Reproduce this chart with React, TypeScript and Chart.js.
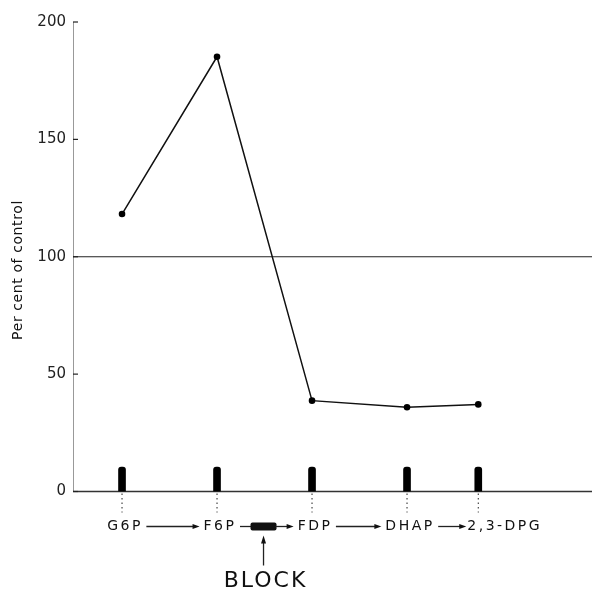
import React, { useEffect, useRef } from "react";
import { Chart, registerables } from "chart.js";

Chart.register(...registerables);

const categories = ["G6P", "F6P", "FDP", "DHAP", "2,3-DPG"];
const categoryPositions = [0, 1, 2, 3, 3.75];
const percentOfControl = [118.2, 185.2, 38.7, 35.9, 37.1];
const markerHeights = [10.4, 10.4, 10.4, 10.4, 10.4];
const controlLevel = 100;
const yTicks = [0, 50, 100, 150, 200];
const xMin = -0.516;
const xMax = 4.905;
const controlLineEnd = 4.95;
const blockLabel = "BLOCK";
const yTitle = "Per cent of control";

const FONT = "'DejaVu Sans', sans-serif";

function arrow(ctx: CanvasRenderingContext2D, x1: number, x2: number, y: number) {
  ctx.beginPath();
  ctx.moveTo(x1, y);
  ctx.lineTo(x2 - 5, y);
  ctx.stroke();
  ctx.beginPath();
  ctx.moveTo(x2, y);
  ctx.lineTo(x2 - 7, y - 2.5);
  ctx.lineTo(x2 - 7, y + 2.5);
  ctx.closePath();
  ctx.fill();
}

const overlay = {
  id: "overlay",
  beforeDatasetsDraw(chart: any) {
    const ctx: CanvasRenderingContext2D = chart.ctx;
    const ys = chart.scales.y;
    const area = chart.chartArea;
    const y0 = ys.getPixelForValue(0);
    ctx.save();
    ctx.strokeStyle = "#333";
    ctx.lineWidth = 1.3;
    ctx.beginPath();
    ctx.moveTo(area.left, y0);
    ctx.lineTo(chart.width, y0);
    ctx.stroke();
    ctx.restore();
  },
  afterDraw(chart: any) {
    const ctx: CanvasRenderingContext2D = chart.ctx;
    const xs = chart.scales.x;
    const ys = chart.scales.y;
    const area = chart.chartArea;
    ctx.save();
    ctx.strokeStyle = "#222";
    ctx.fillStyle = "#111";
    const y0 = ys.getPixelForValue(0);
    // inward ticks
    ctx.lineWidth = 1.2;
    yTicks.forEach((t) => {
      const py = ys.getPixelForValue(t);
      ctx.beginPath();
      ctx.moveTo(area.left, py);
      ctx.lineTo(area.left + 5, py);
      ctx.stroke();
    });
    // dotted drop lines
    ctx.setLineDash([1.5, 3]);
    ctx.lineWidth = 1;
    categoryPositions.forEach((p) => {
      const px = xs.getPixelForValue(p);
      ctx.beginPath();
      ctx.moveTo(px, y0 + 2);
      ctx.lineTo(px, y0 + 21);
      ctx.stroke();
    });
    ctx.setLineDash([]);
    // labels
    const ly = y0 + 35;
    ctx.font = `14px ${FONT}`;
    (ctx as any).letterSpacing = "2.5px";
    ctx.textBaseline = "middle";
    ctx.textAlign = "left";
    const boxes: { l: number; r: number }[] = [];
    categories.forEach((c, i) => {
      const px = xs.getPixelForValue(categoryPositions[i]);
      const w = ctx.measureText(c).width;
      let left = px + 3 - w / 2;
      if (i === categories.length - 1) left = px - 11;
      ctx.fillText(c, left, ly);
      boxes.push({ l: left, r: left + w - 2.5 });
    });
    (ctx as any).letterSpacing = "0px";
    ctx.lineWidth = 1.3;
    for (let i = 0; i < boxes.length - 1; i++) {
      const start = boxes[i].r + 6;
      const end = boxes[i + 1].l - (i === 3 ? 1 : 4);
      if (i === 1) {
        const mid = (xs.getPixelForValue(categoryPositions[1]) + xs.getPixelForValue(categoryPositions[2])) / 2 - 1;
        ctx.beginPath();
        ctx.moveTo(start, ly);
        ctx.lineTo(mid - 12, ly);
        ctx.stroke();
        ctx.beginPath();
        (ctx as any).roundRect(mid - 13, ly - 4, 26, 8, 2);
        ctx.fill();
        arrow(ctx, mid + 12, end, ly);
        // BLOCK arrow up
        ctx.beginPath();
        ctx.moveTo(mid, ly + 39);
        ctx.lineTo(mid, ly + 14);
        ctx.stroke();
        ctx.beginPath();
        ctx.moveTo(mid, ly + 9);
        ctx.lineTo(mid - 2.5, ly + 17);
        ctx.lineTo(mid + 2.5, ly + 17);
        ctx.closePath();
        ctx.fill();
        ctx.font = `22px ${FONT}`;
        (ctx as any).letterSpacing = "2px";
        const bw = ctx.measureText(blockLabel).width;
        ctx.fillText(blockLabel, mid - bw / 2 + 2, ly + 55);
        (ctx as any).letterSpacing = "0px";
        ctx.font = `14px ${FONT}`;
      } else {
        arrow(ctx, start, end, ly);
      }
    }
    // y title
    ctx.save();
    ctx.translate(18, 270);
    ctx.rotate(-Math.PI / 2);
    ctx.font = `14px ${FONT}`;
    (ctx as any).letterSpacing = "0.6px";
    ctx.textAlign = "center";
    ctx.fillStyle = "#111";
    ctx.fillText(yTitle, 0, 0);
    ctx.restore();
    ctx.restore();
  },
};

export default function App() {
  const ref = useRef<HTMLCanvasElement>(null);
  useEffect(() => {
    if (!ref.current) return;
    const chart = new Chart(ref.current, {
      type: "line",
      data: {
        datasets: [
          {
            type: "line",
            data: categoryPositions.map((x, i) => ({ x, y: percentOfControl[i] })),
            borderColor: "#111",
            backgroundColor: "#111",
            borderWidth: 1.5,
            pointRadius: 3.3,
            pointBackgroundColor: "#000",
            pointBorderWidth: 0,
            tension: 0,
          },
          {
            type: "line",
            data: [
              { x: xMin, y: controlLevel },
              { x: controlLineEnd, y: controlLevel },
            ],
            borderColor: "#222",
            borderWidth: 1.2,
            pointRadius: 0,
            clip: false,
          },
          {
            type: "bar",
            data: categoryPositions.map((x, i) => ({ x, y: markerHeights[i] })),
            backgroundColor: "#000",
            barThickness: 7,
            borderRadius: { topLeft: 3, topRight: 3, bottomLeft: 0, bottomRight: 0 },
            borderSkipped: false,
          } as any,
        ],
      },
      options: {
        animation: false,
        responsive: false,
        devicePixelRatio: 1,
        layout: { padding: { top: 22, left: 0, right: 0, bottom: 0 } },
        plugins: { legend: { display: false }, tooltip: { enabled: false } },
        scales: {
          x: {
            type: "linear",
            min: xMin,
            max: xMax,
            offset: false,
            ticks: { display: false },
            grid: { display: false },
            border: { display: false },
            afterFit: (s: any) => {
              s.height = 100.5;
            },
          },
          y: {
            min: 0,
            max: 200,
            afterBuildTicks: (s: any) => {
              s.ticks = yTicks.map((v) => ({ value: v }));
            },
            ticks: {
              font: { family: FONT, size: 15 },
              color: "#222",
              padding: 7,
            },
            grid: { display: false, drawTicks: false },
            border: { display: true, color: "#999", width: 1, dash: [16, 5] },
            afterFit: (s: any) => {
              s.width = 73;
            },
          },
        },
      },
      plugins: [overlay],
    } as any);
    return () => chart.destroy();
  }, []);
  return (
    <div style={{ position: "fixed", left: 0, top: 0, width: 592, height: 592, background: "#fff" }}>
      <canvas ref={ref} width={592} height={592} />
    </div>
  );
}
